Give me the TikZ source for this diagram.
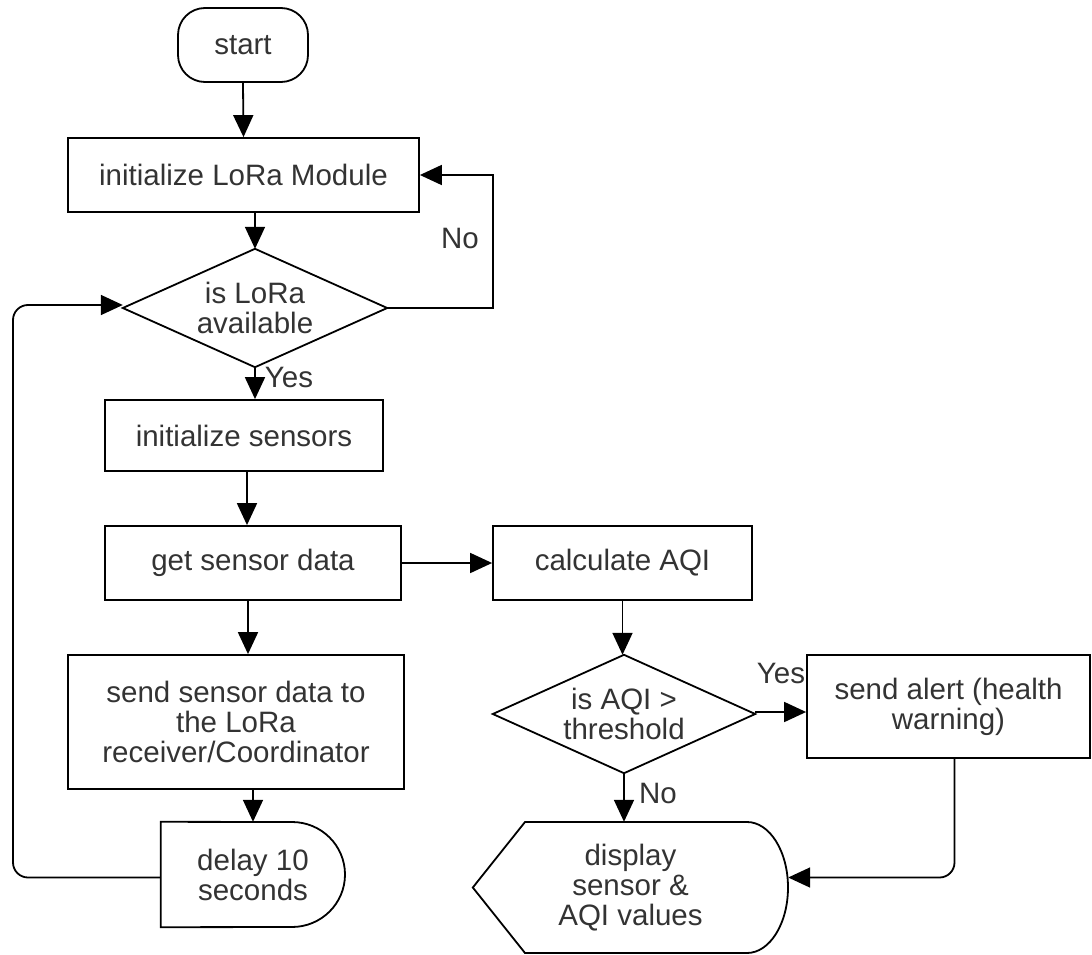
\documentclass[tikz,border=0pt]{standalone}
\usepackage{fontspec}
\setmainfont{Liberation Sans}
\usetikzlibrary{arrows.meta}
\definecolor{txt}{HTML}{333333}
\begin{document}
\begin{tikzpicture}[x=1pt,y=-1pt,
  every node/.style={font=\fontsize{29.5}{30}\selectfont, text=txt, align=center, inner sep=0pt},
  proc/.style={draw=black, line width=1.8pt},
  frame/.style={draw=none},
  outline/.style={draw=black, line width=1.8pt},
  arr/.style={draw=black, line width=1.8pt, -{Triangle[length=22pt,width=20pt]}},
  lbl/.style={font=\fontsize{29.5}{30}\selectfont}]
\useasboundingbox (0,0) rectangle (1092,955);

% nodes
\node[proc, rounded corners=27pt, minimum width=130pt, minimum height=74pt] (start) at (243,45) {start};
\node[proc, minimum width=351pt, minimum height=74pt] (init) at (243.5,175) {initialize LoRa Module};
\node[frame, minimum width=264pt, minimum height=118pt] (lora) at (255,308) {is LoRa\\available};
\draw[outline] (lora.north) -- (lora.east) -- (lora.south) -- (lora.west) -- cycle;
\node[proc, minimum width=278pt, minimum height=71pt] (sensors) at (244,435.5) {initialize sensors};
\node[proc, minimum width=296pt, minimum height=74pt] (getdata) at (253,563) {get sensor data};
\node[proc, minimum width=259pt, minimum height=74pt] (calc) at (622.5,563) {calculate AQI};
\node[proc, minimum width=336pt, minimum height=134pt] (send) at (236,722) {send sensor data to\\the LoRa\\receiver/Coordinator};
\node[frame, minimum width=184pt, minimum height=105pt] (delay) at (253,874.5) {delay 10\\seconds};
\draw[outline] (delay.north west) -- (292,822) arc[start angle=-90, end angle=90, x radius=53, y radius=52.5] -- (delay.south west) -- cycle;
\node[frame, minimum width=262pt, minimum height=118pt] (aqi) at (624,714) {is AQI >\\threshold};
\draw[outline] (aqi.north) -- (aqi.east) -- (aqi.south) -- (aqi.west) -- cycle;
\node[proc, minimum width=283pt, minimum height=103pt] (alert) at (948.5,706.5) {send alert (health\\warning)};
\node[frame, minimum width=315pt, minimum height=131pt] (display) at (630.5,887.5) {display\\sensor \&\\AQI values};
\draw[outline] (display.west) -- (525,822) -- (747,822) arc[start angle=-90, end angle=90, x radius=41, y radius=65.5] -- (525,953) -- cycle;

% helper coordinates
\coordinate (c1) at (493,175);
\coordinate (c2) at (13,600);

% connectors
\draw[arr] (start.south) -- (init.north);
\draw[arr] (lora.north |- init.south) -- (lora.north);
\draw[arr] (lora.east) -| (c1) -- (init.east);
\node[lbl] (no1) at (460,238) {No};
\draw[arr] (lora.south) -- (lora.south |- sensors.north);
\node[lbl] (yes1) at (289,377) {Yes};
\draw[arr] ([xshift=3pt]sensors.south) -- ([xshift=3pt]sensors.south |- getdata.north);
\draw[arr] (getdata.east) -- (calc.west);
\draw[arr] ([xshift=-5pt]getdata.south) -- ([xshift=-5pt]getdata.south |- send.north);
\draw[arr] (delay.north |- send.south) -- (delay.north);
\draw[arr, rounded corners=15pt] ([yshift=-3pt]delay.west) -| (c2) |- ([yshift=3pt]lora.west);
\draw[arr] (calc.south) -- (calc.south |- aqi.north);
\draw[arr] ([yshift=2pt]aqi.east) -- ([yshift=2pt]aqi.east -| alert.west);
\node[lbl] (yes2) at (781,673) {Yes};
\draw[arr] (aqi.south) -- (aqi.south |- display.north);
\node[lbl] (no2) at (658,793) {No};
\draw[arr, rounded corners=15pt] ([xshift=6pt]alert.south) |- ([yshift=10pt]display.east);
\end{tikzpicture}
\end{document}
